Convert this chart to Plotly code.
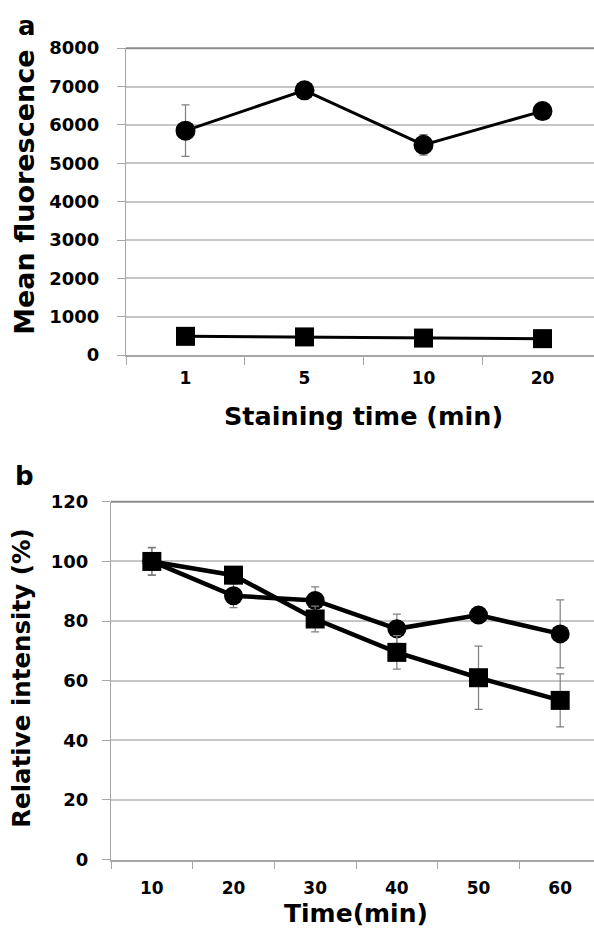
import plotly.graph_objects as go

# ---- data ----
stain_time = ["1", "5", "10", "20"]
fluor_circle = [5850, 6900, 5480, 6360]
fluor_circle_err = [670, 60, 270, 60]
fluor_square = [490, 475, 445, 430]
fluor_square_err = [30, 30, 30, 30]

time_min = ["10", "20", "30", "40", "50", "60"]
rel_circle = [100, 88.5, 86.9, 77.4, 82.0, 75.7]
rel_circle_err = [4.5, 4.0, 4.6, 4.9, 1.0, 11.4]
rel_square = [100, 95.4, 80.7, 69.5, 61.0, 53.4]
rel_square_err = [4.7, 1.0, 4.3, 5.6, 10.6, 8.9]

W, H = 594, 941
FONT = "DejaVu Sans"
GRID = "#c6c6c6"
AX = "#a6a6a6"
ERR = "#7f7f7f"


def py(px):
    return 1 - px / H


fig = go.Figure()

def add_series(x, y, err, symbol, xa, ya, lw, size):
    fig.add_trace(go.Scatter(
        x=x, y=y, xaxis=xa, yaxis=ya, mode="lines+markers",
        line=dict(color="black", width=lw),
        marker=dict(symbol=symbol, size=size, color="black"),
        error_y=dict(type="data", array=err, visible=True, color=ERR,
                     thickness=1.2, width=4),
        showlegend=False, cliponaxis=False))

add_series(stain_time, fluor_circle, fluor_circle_err, "circle", "x", "y", 3, 20)
add_series(stain_time, fluor_square, fluor_square_err, "square", "x", "y", 3, 19)
add_series(time_min, rel_circle, rel_circle_err, "circle", "x2", "y2", 4.5, 19)
add_series(time_min, rel_square, rel_square_err, "square", "x2", "y2", 4.5, 19)

xcommon = dict(type="category", tickson="boundaries", ticks="outside", ticklen=8,
               tickcolor=AX, tickwidth=1.2, showline=True, linecolor=AX, linewidth=1.5,
               showgrid=False, zeroline=False)
ycommon = dict(ticks="outside", ticklen=8, tickcolor=AX, tickwidth=1.2,
               showline=True, linecolor=AX, linewidth=1.2, showgrid=True,
               gridcolor=GRID, gridwidth=1.5, zeroline=False)

fig.update_layout(
    width=W, height=H, margin=dict(l=0, r=0, t=0, b=0),
    paper_bgcolor="white", plot_bgcolor="white",
    font=dict(family=FONT, color="black"),
    xaxis=dict(**xcommon, domain=[126 / W, 1], anchor="y",
               categoryorder="array", categoryarray=stain_time,
               range=[-0.5, 3.433], ticklabelstandoff=7,
               tickfont=dict(size=17, weight="bold")),
    yaxis=dict(**ycommon, domain=[py(352), py(38)], anchor="x",
               range=[0, 8000], dtick=1000, ticklabelstandoff=14,
               tickfont=dict(size=18, weight="bold")),
    xaxis2=dict(**xcommon, domain=[111 / W, 1], anchor="y2",
                categoryorder="array", categoryarray=time_min,
                range=[-0.5, 5.414], ticklabelstandoff=12,
                tickfont=dict(size=17, weight="bold")),
    yaxis2=dict(**ycommon, domain=[py(868), py(502)], anchor="x2",
                range=[0, 120], dtick=20, ticklabelstandoff=10,
                tickfont=dict(size=18, weight="bold")),
)

# darker top border lines
for xa, ya in [("x", "y"), ("x2", "y2")]:
    fig.add_shape(type="line", xref=f"{xa} domain", yref=f"{ya} domain",
                  x0=0, x1=1, y0=1, y1=1, line=dict(color="#8c8c8c", width=2))

ann = [
    dict(text="a", x=27 / W, y=py(15), size=26, weight="bold", angle=0),
    dict(text="b", x=24 / W, y=py(476), size=26, weight="bold", angle=0),
    dict(text="Mean fluorescence", x=25 / W, y=py(186), size=27, weight="bold", angle=-90),
    dict(text="Relative intensity (%)", x=22 / W, y=py(683), size=24.5, weight="bold", angle=-90),
    dict(text="Staining time (min)", x=363 / W, y=py(414), size=25.5, weight="bold", angle=0),
    dict(text="Time(min)", x=356 / W, y=py(923), size=25, weight="bold", angle=0),
]
for a in ann:
    fig.add_annotation(text=a["text"], x=a["x"], y=a["y"], xref="paper", yref="paper",
                       showarrow=False, textangle=a["angle"],
                       xanchor="center", yanchor="middle",
                       font=dict(family=FONT, size=a["size"], weight=a["weight"], color="black"))

fig.write_html("out.html")
